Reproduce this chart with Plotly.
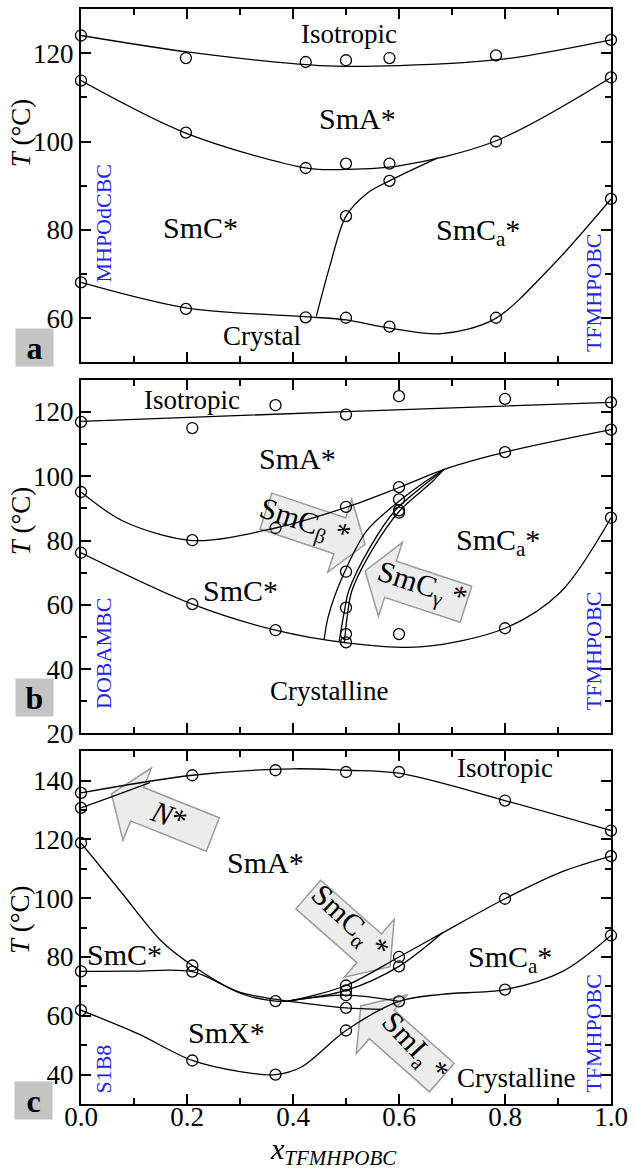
import math
import plotly.graph_objects as go

# ---------------- Panel a (MHPOdCBC / TFMHPOBC) ----------------
a_x = [0.0, 0.198, 0.424, 0.5, 0.582, 0.783, 1.0]
a_iso = [124.0, 118.9, 118.0, 118.4, 118.9, 119.5, 123.0]
a_sma = [113.8, 102.0, 94.0, 95.0, 95.0, 100.0, 114.5]
a_cry = [68.1, 62.1, 60.2, 60.1, 58.1, 60.1, 87.0]
a_ext_x = [0.5, 0.582]
a_ext_T = [83.1, 91.1]
# boundary curves
a_iso_cx = [0.0, 0.2, 0.45, 0.6, 0.8, 1.0]
a_iso_cT = [124.0, 120.3, 117.2, 117.2, 118.7, 123.0]
a_sma_cx = [0.0, 0.2, 0.43, 0.5, 0.6, 0.78, 1.0]
a_sma_cT = [113.8, 101.8, 93.9, 93.7, 94.5, 100.0, 114.5]
a_cca_cx = [0.444, 0.47, 0.5, 0.54, 0.582, 0.673]
a_cca_cT = [60.4, 72.0, 83.1, 88.3, 91.1, 96.3]
a_cry_cx = [0.0, 0.2, 0.43, 0.5, 0.58, 0.68, 0.78, 0.89, 1.0]
a_cry_cT = [68.1, 62.3, 60.3, 59.6, 57.8, 56.5, 59.8, 72.0, 87.0]

# ---------------- Panel b (DOBAMBC / TFMHPOBC) ----------------
b_x = [0.0, 0.21, 0.367, 0.5, 0.6, 0.8, 1.0]
b_iso = [116.9, 115.0, 122.1, 119.2, 124.9, 124.1, 123.0]
b_sma = [95.1, 80.1, 83.9, 90.5, 96.6, 107.5, 114.5]
b_cry = [76.2, 60.2, 52.1, 48.3, 50.9, 52.7, 87.1]
b_ext_x = [0.5, 0.5, 0.5, 0.6, 0.6, 0.6]
b_ext_T = [70.3, 59.1, 50.9, 92.8, 89.4, 88.7]
b_iso_cx = [0.0, 0.5, 1.0]
b_iso_cT = [117.1, 120.1, 123.0]
b_sma_cx = [0.0, 0.08, 0.21, 0.367, 0.5, 0.6, 0.688, 0.8, 1.0]
b_sma_cT = [95.1, 86.0, 80.0, 83.9, 90.3, 96.5, 102.3, 107.5, 114.5]
b_cry_cx = [0.0, 0.21, 0.367, 0.5, 0.64, 0.8, 0.905, 1.0]
b_cry_cT = [76.2, 60.2, 52.1, 48.2, 46.9, 52.7, 64.0, 87.1]
b_l1_cx = [0.459, 0.466, 0.4925, 0.539, 0.6, 0.651, 0.685]
b_l1_cT = [49.3, 56.0, 68.4, 83.0, 92.2, 98.5, 102.2]
b_l2_cx = [0.487, 0.497, 0.505, 0.545, 0.592, 0.657, 0.685]
b_l2_cT = [48.6, 58.0, 64.3, 77.8, 89.2, 98.5, 102.2]
b_l3_cx = [0.497, 0.502, 0.511, 0.552, 0.601, 0.664, 0.685]
b_l3_cT = [48.3, 56.0, 64.3, 77.8, 89.2, 98.5, 102.2]

# ---------------- Panel c (S1B8 / TFMHPOBC) ----------------
c_px = [0.0, 0.0, 0.0, 0.0, 0.0,
        0.21, 0.21, 0.21, 0.21,
        0.367, 0.367, 0.367,
        0.5, 0.5, 0.5, 0.5, 0.5, 0.5,
        0.6, 0.6, 0.6, 0.6,
        0.8, 0.8, 0.8,
        1.0, 1.0, 1.0]
c_pT = [135.8, 130.7, 118.8, 75.1, 61.9,
        141.8, 77.1, 75.0, 44.8,
        143.5, 65.0, 40.0,
        142.9, 70.3, 68.6, 67.0, 62.7, 55.0,
        142.9, 80.0, 76.8, 64.9,
        133.2, 99.8, 68.9,
        123.0, 114.3, 87.3]
c_iso_cx = [0.0, 0.21, 0.4, 0.5, 0.6, 0.8, 1.0]
c_iso_cT = [135.8, 141.8, 144.0, 143.5, 142.5, 133.2, 123.0]
c_n_cx = [0.0, 0.06, 0.13]
c_n_cT = [130.7, 134.6, 139.3]
c_sma_cx = [0.0, 0.076, 0.151, 0.21, 0.303, 0.367, 0.39, 0.5, 0.6, 0.682, 0.8, 0.908, 1.0]
c_sma_cT = [118.8, 102.0, 85.5, 77.1, 67.5, 65.0, 65.0, 70.3, 80.0, 88.2, 99.8, 109.0, 114.3]
c_alb_cx = [0.39, 0.5, 0.6, 0.682]
c_alb_cT = [65.0, 68.6, 76.8, 88.2]
c_smc_cx = [0.0, 0.1, 0.21, 0.3, 0.39]
c_smc_cT = [75.1, 75.2, 75.0, 68.0, 65.0]
c_mid_cx = [0.39, 0.5, 0.6]
c_mid_cT = [65.0, 67.0, 64.9]
c_low_cx = [0.39, 0.5, 0.57]
c_low_cT = [65.0, 62.7, 62.2]
c_smx_cx = [0.0, 0.106, 0.21, 0.3, 0.367, 0.416, 0.5, 0.6, 0.68, 0.8, 0.908, 1.0]
c_smx_cT = [61.9, 54.0, 44.8, 41.0, 40.0, 42.6, 55.0, 64.9, 67.3, 68.9, 75.0, 87.3]

x_ticks = [0.0, 0.2, 0.4, 0.6, 0.8, 1.0]
x_ticklabels = ["0.0", "0.2", "0.4", "0.6", "0.8", "1.0"]

# ---------------- geometry ----------------
W, H = 635, 1171
ML, MR, MT, MB = 81, 18, 7, 67
PW, PH = W - ML - MR, H - MT - MB
FONT = "Liberation Serif, Times New Roman, Times, serif"
BLUE = "rgb(35,35,235)"


def px2paper(px, py):
    return (px - ML) / PW, (H - MB - py) / PH


fig = go.Figure()

LINE = dict(color="black", width=1.3, shape="spline", smoothing=0.9)
MARK = dict(symbol="circle-open", size=11, color="black", line=dict(width=1.3, color="black"))


def ax_id(n):
    return "" if n == 1 else str(n)


def curve(xs, ys, n):
    fig.add_trace(go.Scatter(x=xs, y=ys, mode="lines", line=LINE,
                             xaxis="x" + ax_id(n), yaxis="y" + ax_id(n),
                             hoverinfo="skip", cliponaxis=False))


def points(xs, ys, n):
    fig.add_trace(go.Scatter(x=xs, y=ys, mode="markers", marker=MARK,
                             xaxis="x" + ax_id(n), yaxis="y" + ax_id(n),
                             cliponaxis=False))


# panel a
for cx, cT in [(a_iso_cx, a_iso_cT), (a_sma_cx, a_sma_cT), (a_cca_cx, a_cca_cT), (a_cry_cx, a_cry_cT)]:
    curve(cx, cT, 1)
for ys in (a_iso, a_sma, a_cry):
    points(a_x, ys, 1)
points(a_ext_x, a_ext_T, 1)

# panel b
for cx, cT in [(b_iso_cx, b_iso_cT), (b_sma_cx, b_sma_cT), (b_cry_cx, b_cry_cT),
               (b_l1_cx, b_l1_cT), (b_l2_cx, b_l2_cT), (b_l3_cx, b_l3_cT)]:
    curve(cx, cT, 2)
for ys in (b_iso, b_sma, b_cry):
    points(b_x, ys, 2)
points(b_ext_x, b_ext_T, 2)

# panel c
for cx, cT in [(c_iso_cx, c_iso_cT), (c_n_cx, c_n_cT), (c_sma_cx, c_sma_cT), (c_alb_cx, c_alb_cT),
               (c_smc_cx, c_smc_cT), (c_mid_cx, c_mid_cT), (c_low_cx, c_low_cT), (c_smx_cx, c_smx_cT)]:
    curve(cx, cT, 3)
points(c_px, c_pT, 3)

TICKFONT = dict(family=FONT, size=27, color="black")


# ---------------- axes ----------------
def xax(anchor, show):
    return dict(domain=[0, 1], range=[0, 1], anchor=anchor, showline=True, linewidth=2, linecolor="black",
                mirror="ticks", ticks="inside", ticklen=10, tickwidth=2, tickcolor="black",
                tickvals=x_ticks, ticktext=x_ticklabels, showticklabels=show, showgrid=False, zeroline=False,
                ticklabelstandoff=-12,
                minor=dict(ticks="inside", ticklen=6, tickwidth=2, dtick=0.1, tick0=0, tickcolor="black", showgrid=False),
                tickfont=TICKFONT)


def yax(dom, rng, anchor):
    return dict(domain=dom, range=rng, anchor=anchor, showline=True, linewidth=2, linecolor="black",
                mirror="ticks", ticks="inside", ticklen=10, tickwidth=2, tickcolor="black",
                tick0=0, dtick=20, showgrid=False, zeroline=False,
                minor=dict(ticks="inside", ticklen=6, tickwidth=2, dtick=10, tick0=0, tickcolor="black", showgrid=False),
                tickfont=TICKFONT)


dom_a = [px2paper(0, 361)[1], 1.0]
dom_b = [px2paper(0, 732.7)[1], px2paper(0, 378.5)[1]]
dom_c = [0.0, px2paper(0, 750.5)[1]]

fig.update_layout(
    width=W, height=H, margin=dict(l=ML, r=MR, t=MT, b=MB),
    paper_bgcolor="white", plot_bgcolor="white", showlegend=False,
    font=dict(family=FONT, color="black"),
    xaxis=xax("y", False), yaxis=yax(dom_a, [50, 130], "x"),
    xaxis2=xax("y2", False), yaxis2=yax(dom_b, [20, 130], "x2"),
    xaxis3=xax("y3", True), yaxis3=yax(dom_c, [30, 150], "x3"),
)

ann = []


def label(text, x, y, n, size=30, color="black", angle=0):
    ann.append(dict(text=text, x=x, y=y, xref="x" + ax_id(n), yref="y" + ax_id(n),
                    showarrow=False, textangle=angle,
                    font=dict(family=FONT, size=size, color=color), xanchor="center", yanchor="middle"))


# panel a labels
label("Isotropic", 0.505, 124.4, 1, 27)
label("SmA*", 0.522, 105.2, 1)
label("SmC*", 0.225, 80.5, 1)
label("SmC<sub>a</sub>*", 0.749, 79.6, 1)
label("Crystal", 0.342, 55.9, 1, 27)
label("MHPOdCBC", 0.043, 81.6, 1, 22, BLUE, -90)
label("TFMHPOBC", 0.967, 65.8, 1, 22, BLUE, -90)
# panel b labels
label("Isotropic", 0.21, 123.8, 2, 27)
label("SmA*", 0.408, 105.5, 2)
label("SmC*", 0.301, 64.5, 2)
label("SmC<sub>a</sub>*", 0.787, 79.6, 2)
label("Crystalline", 0.467, 33.3, 2, 27)
label("DOBAMBC", 0.042, 44.8, 2, 22, BLUE, -90)
label("TFMHPOBC", 0.967, 45.7, 2, 22, BLUE, -90)
# panel c labels
label("Isotropic", 0.8, 144.3, 3, 27)
label("SmA*", 0.348, 112.0, 3)
label("SmC*", 0.083, 80.8, 3)
label("SmC<sub>a</sub>*", 0.81, 79.2, 3)
label("SmX*", 0.274, 54.3, 3)
label("Crystalline", 0.82, 38.9, 3, 27)
label("S1B8", 0.042, 41.8, 3, 22, BLUE, -90)
label("TFMHPOBC", 0.967, 54.1, 3, 22, BLUE, -90)

# y-axis titles
for n, yv in [(1, 102.0), (2, 86.2), (3, 92.8)]:
    ann.append(dict(text="<i>T</i> (°C)", x=(20 - ML) / PW, y=yv, xref="paper",
                    yref="y" + ax_id(n), showarrow=False, textangle=-90,
                    font=dict(family=FONT, size=27, color="black"), xanchor="center", yanchor="middle"))

# x-axis title
xt = px2paper(336, 1151)
ann.append(dict(text="<i>x<sub>TFMHPOBC</sub></i>", x=xt[0], y=xt[1], xref="paper", yref="paper",
                showarrow=False, font=dict(family=FONT, size=30, color="black"),
                xanchor="center", yanchor="middle"))

# panel letters
for letter, cx, cy in [("a", 33.5, 346.5), ("b", 34.0, 696.5), ("c", 32.5, 1100.5)]:
    p = px2paper(cx, cy)
    ann.append(dict(text="<b>%s</b>" % letter, x=p[0], y=p[1], xref="paper", yref="paper",
                    showarrow=False, font=dict(family=FONT, size=32, color="black"),
                    bgcolor="#c4c4c4", width=35, height=35, xanchor="center", yanchor="middle"))

# block arrows (pixel geometry -> paper)
arrows = [
    # tail(x,y), tip(x,y), body width, head width, head length, text, text centre, angle
    ((268, 510), (368.3, 543.3), 38, 77, 27, "SmC<sub>β</sub> *", (306.7, 522.0), 18),
    ((470.3, 603.3), (368.3, 570.0), 38, 78, 27, "SmC<sub>γ</sub> *", (425.6, 585.0), 18),
    ((214.3, 834.0), (111.8, 793.3), 36, 78, 28, "<i>N</i>*", (170.0, 815.0), 20),
    ((310.8, 894.2), (393.6, 966.4), 38, 77, 28, "SmC<sub>α</sub> *", (352.0, 923.0), 43),
    ((445.9, 1077.5), (364.0, 1005.8), 38, 78, 28, "SmI<sub>a</sub> *", (418.0, 1048.0), 47),
]
shapes = []
for tail, tip, bw, hw, hl, txt, tc, ang in arrows:
    dx, dy = tip[0] - tail[0], tip[1] - tail[1]
    L = math.hypot(dx, dy)
    ux, uy = dx / L, dy / L
    nx, ny = -uy, ux
    neck = (tip[0] - ux * hl, tip[1] - uy * hl)
    pts = [(tail[0] + nx * bw / 2, tail[1] + ny * bw / 2),
           (neck[0] + nx * bw / 2, neck[1] + ny * bw / 2),
           (neck[0] + nx * hw / 2, neck[1] + ny * hw / 2),
           tip,
           (neck[0] - nx * hw / 2, neck[1] - ny * hw / 2),
           (neck[0] - nx * bw / 2, neck[1] - ny * bw / 2),
           (tail[0] - nx * bw / 2, tail[1] - ny * bw / 2)]
    pp = [px2paper(*q) for q in pts]
    path = "M " + " L ".join("%.5f,%.5f" % q for q in pp) + " Z"
    shapes.append(dict(type="path", path=path, xref="paper", yref="paper", layer="below",
                       fillcolor="#ececec", line=dict(color="#9b9b9b", width=1.5)))
    p = px2paper(*tc)
    ann.append(dict(text=txt, x=p[0], y=p[1], xref="paper", yref="paper", showarrow=False,
                    textangle=ang, font=dict(family=FONT, size=30, color="black"),
                    xanchor="center", yanchor="middle"))

fig.update_layout(annotations=ann, shapes=shapes)
# remove the browser's default 8px page margin so the figure sits at the window origin
fig.write_html("out.html", config={"displayModeBar": False},
               post_script="document.body.style.margin='0px';")
